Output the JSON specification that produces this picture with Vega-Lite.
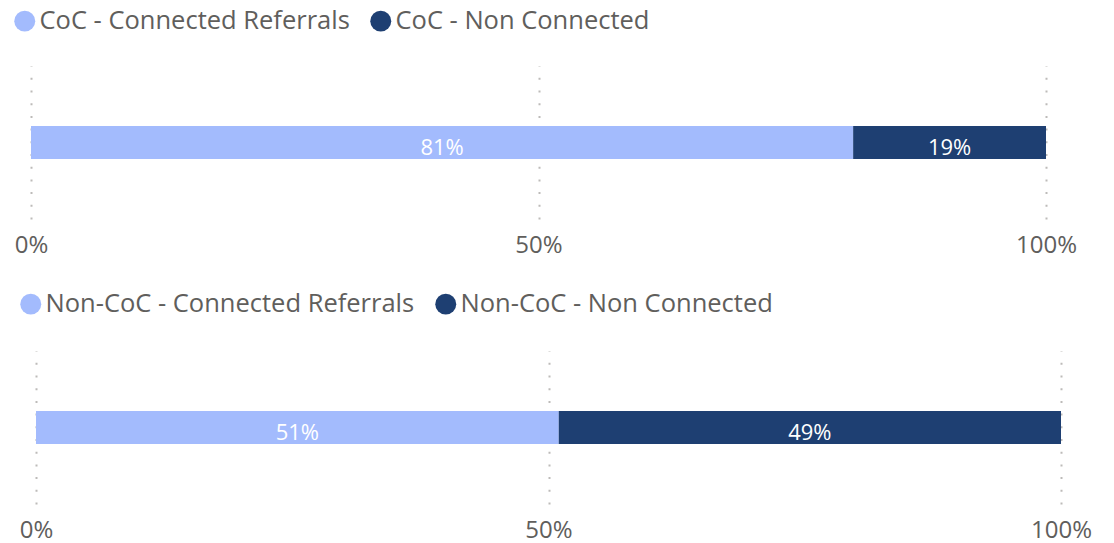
{
  "$schema": "https://vega.github.io/schema/vega-lite/v6.json",
  "autosize": {"type": "pad"},
  "padding": {"left": 12, "top": 8, "right": 5, "bottom": 0},
  "background": "white",
  "spacing": 34,
  "datasets": {
    "coc": [
      {"group": "CoC", "category": "CoC - Connected Referrals", "share": 0.81},
      {"group": "CoC", "category": "CoC - Non Connected", "share": 0.19}
    ],
    "noncoc": [
      {"group": "Non-CoC", "category": "Non-CoC - Connected Referrals", "share": 0.51},
      {"group": "Non-CoC", "category": "Non-CoC - Non Connected", "share": 0.49}
    ]
  },
  "config": {
    "font": "Open Sans",
    "view": {"stroke": null},
    "axisX": {
      "labelFontSize": 24,
      "labelColor": "#605E5C",
      "domain": false,
      "ticks": false,
      "grid": true,
      "gridColor": "#BDBBB9",
      "gridDash": [2, 10.7],
      "gridWidth": 2,
      "labelPadding": 14,
      "labelFlush": false,
      "labelOverlap": false
    },
    "legend": {
      "symbolType": "circle",
      "symbolSize": 440,
      "labelFontSize": 25.5,
      "labelColor": "#605E5C",
      "labelLimit": 600,
      "columnPadding": 18,
      "labelOffset": 2,
      "padding": 0,
      "symbolStrokeWidth": 0,
      "symbolOpacity": 1,
      "title": null
    }
  },
  "resolve": {"scale": {"color": "independent", "x": "independent"}},
  "vconcat": [
    {
      "data": {"name": "coc"},
      "width": 1015,
      "height": 153,
      "encoding": {
        "y": {"field": "group", "type": "nominal", "axis": null},
        "x": {"field": "share", "type": "quantitative", "stack": "normalize", "scale": {"domain": [0, 1], "nice": false}, "title": null,
              "axis": {"values": [0, 0.5, 1], "format": ".0%", "title": null}},
        "color": {
          "field": "category", "type": "nominal",
          "scale": {"domain": ["CoC - Connected Referrals", "CoC - Non Connected"], "range": ["#A3BBFD", "#1E3F72"]},
          "legend": {"orient": "none", "legendX": -19, "legendY": -58, "direction": "horizontal", "title": null, "symbolType": "circle"}
        },
        "order": {"field": "category", "sort": "ascending"}
      },
      "layer": [
        {"mark": {"type": "bar", "height": 33}},
        {
          "mark": {"type": "text", "fontSize": 22, "baseline": "middle", "dy": 5},
          "encoding": {
            "x": {"field": "share", "type": "quantitative", "stack": "normalize", "bandPosition": 0.5},
            "detail": {"field": "category"},
            "text": {"field": "share", "type": "quantitative", "format": ".0%"},
            "color": {"value": "white"}
          }
        }
      ]
    },
    {
      "data": {"name": "noncoc"},
      "width": 1030,
      "height": 153,
      "encoding": {
        "y": {"field": "group", "type": "nominal", "axis": null},
        "x": {"field": "share", "type": "quantitative", "stack": "normalize", "scale": {"domain": [0, 1], "nice": false, "range": [5, 1030]}, "title": null,
              "axis": {"values": [0, 0.5, 1], "format": ".0%", "title": null}},
        "color": {
          "field": "category", "type": "nominal",
          "scale": {"domain": ["Non-CoC - Connected Referrals", "Non-CoC - Non Connected"], "range": ["#A3BBFD", "#1E3F72"]},
          "legend": {"orient": "none", "legendX": -13, "legendY": -60, "direction": "horizontal", "title": null, "symbolType": "circle"}
        },
        "order": {"field": "category", "sort": "ascending"}
      },
      "layer": [
        {"mark": {"type": "bar", "height": 33}},
        {
          "mark": {"type": "text", "fontSize": 22, "baseline": "middle", "dy": 5},
          "encoding": {
            "x": {"field": "share", "type": "quantitative", "stack": "normalize", "bandPosition": 0.5},
            "detail": {"field": "category"},
            "text": {"field": "share", "type": "quantitative", "format": ".0%"},
            "color": {"value": "white"}
          }
        }
      ]
    }
  ]
}
